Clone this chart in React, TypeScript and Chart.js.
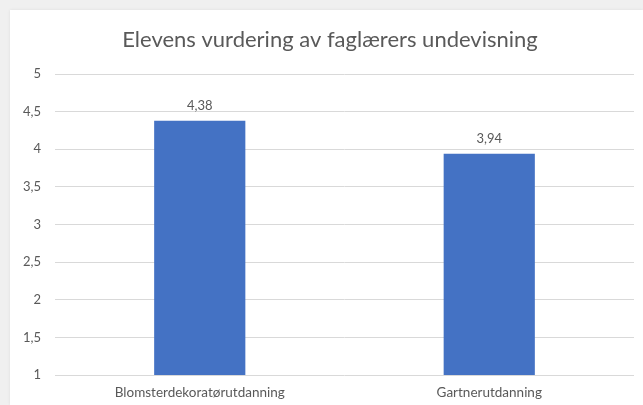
import React, { useEffect, useRef } from "react";
import { Chart, registerables } from "chart.js";

Chart.register(...registerables);

const categories = ["Blomsterdekoratørutdanning", "Gartnerutdanning"];
const values = [4.38, 3.94];
const titleText = "Elevens vurdering av faglærers undevisning";
const yMin = 1;
const yMax = 5;
const yStep = 0.5;

const FONT = "Lato, 'Open Sans', sans-serif";
const TEXT = "#595959";

const valueLabels = {
  id: "valueLabels",
  afterDatasetsDraw(chart: any) {
    const ctx = chart.ctx;
    const meta = chart.getDatasetMeta(0);
    ctx.save();
    ctx.fillStyle = TEXT;
    ctx.font = `13px ${FONT}`;
    ctx.textAlign = "center";
    ctx.textBaseline = "bottom";
    meta.data.forEach((bar: any, i: number) => {
      const v = chart.data.datasets[0].data[i] as number;
      ctx.fillText(String(v).replace(".", ","), bar.x, bar.y - 8);
    });
    ctx.restore();
  },
};

const titlePlugin = {
  id: "customTitle",
  afterDraw(chart: any) {
    const ctx = chart.ctx;
    ctx.save();
    ctx.fillStyle = TEXT;
    ctx.font = `22px ${FONT}`;
    ctx.textAlign = "center";
    ctx.textBaseline = "middle";
    ctx.fillText(titleText, 320, 30);
    ctx.restore();
  },
};

export default function App() {
  const ref = useRef<HTMLCanvasElement | null>(null);
  useEffect(() => {
    document.body.style.margin = "0";
    const chart = new Chart(ref.current!, {
      type: "bar",
      data: {
        labels: categories,
        datasets: [
          {
            data: values,
            backgroundColor: "#4472C4",
            barPercentage: 0.315,
            categoryPercentage: 1,
          },
        ],
      },
      options: {
        animation: false,
        responsive: false,
        maintainAspectRatio: false,
        layout: { padding: { left: 0, right: 9, top: 64, bottom: 0 } },
        plugins: {
          legend: { display: false },
          tooltip: { enabled: false },
          title: { display: false },
        },
        scales: {
          x: {
            grid: { display: false, drawTicks: false },
            border: { display: false },
            ticks: { color: TEXT, font: { family: FONT, size: 13.5 }, padding: 10 },
            afterFit: (s: any) => {
              s.height = 30;
            },
          },
          y: {
            min: yMin,
            max: yMax,
            grid: { color: "#d9d9d9", lineWidth: 1, drawTicks: false },
            border: { display: false },
            ticks: {
              stepSize: yStep,
              color: TEXT,
              font: { family: FONT, size: 13 },
              padding: 14,
              callback: (v: any) => String(v).replace(".", ","),
            },
            afterFit: (s: any) => {
              s.width = 45;
            },
          },
        },
      },
      plugins: [valueLabels, titlePlugin],
    });
    return () => chart.destroy();
  }, []);
  return (
    <div
      style={{
        position: "absolute",
        left: 0,
        top: 0,
        width: 643,
        height: 405,
        background: "#f0f0f0",
        overflow: "hidden",
      }}
    >
      <div
        style={{
          position: "absolute",
          left: 10,
          top: 10,
          width: 633,
          height: 395,
          background: "#ffffff",
          boxShadow: "0 0 3px rgba(0,0,0,0.08)",
        }}
      >
        <canvas ref={ref} width={633} height={395} style={{ display: "block" }} />
      </div>
    </div>
  );
}
